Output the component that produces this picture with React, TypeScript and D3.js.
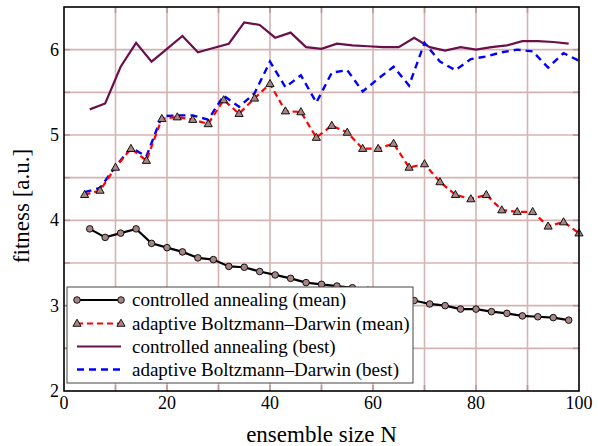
import React from "react";
import * as d3 from "d3";

const caMeanX = [5, 8, 11, 14, 17, 20, 23, 26, 29, 32, 35, 38, 41, 44, 47, 50, 53, 56, 59, 62, 65, 68, 71, 74, 77, 80, 83, 86, 89, 92, 95, 98];
const caMeanY = [3.9, 3.8, 3.85, 3.9, 3.73, 3.68, 3.63, 3.56, 3.54, 3.46, 3.45, 3.4, 3.36, 3.32, 3.27, 3.25, 3.23, 3.21, 3.18, 3.14, 3.1, 3.06, 3.02, 3.0, 2.96, 2.96, 2.93, 2.91, 2.88, 2.87, 2.86, 2.83];

const abdMeanX = [4, 7, 10, 13, 16, 19, 22, 25, 28, 31, 34, 37, 40, 43, 46, 49, 52, 55, 58, 61, 64, 67, 70, 73, 76, 79, 82, 85, 88, 91, 94, 97, 100];
const abdMeanY = [4.3, 4.35, 4.62, 4.84, 4.7, 5.19, 5.21, 5.18, 5.13, 5.41, 5.25, 5.43, 5.6, 5.28, 5.27, 4.97, 5.11, 5.03, 4.84, 4.84, 4.9, 4.62, 4.66, 4.45, 4.3, 4.25, 4.3, 4.12, 4.1, 4.1, 3.93, 3.98, 3.85];

const caBestX = [5, 8, 11, 14, 17, 20, 23, 26, 29, 32, 35, 38, 41, 44, 47, 50, 53, 56, 59, 62, 65, 68, 71, 74, 77, 80, 83, 86, 89, 92, 95, 98];
const caBestY = [5.3, 5.37, 5.8, 6.08, 5.86, 6.01, 6.16, 5.97, 6.02, 6.07, 6.32, 6.29, 6.14, 6.2, 6.03, 6.01, 6.07, 6.05, 6.04, 6.03, 6.03, 6.14, 6.03, 5.99, 6.03, 6.0, 6.03, 6.05, 6.1, 6.1, 6.09, 6.07];

const abdBestX = [4, 7, 10, 13, 16, 19, 22, 25, 28, 31, 34, 37, 40, 43, 46, 49, 52, 55, 58, 61, 64, 67, 70, 73, 76, 79, 82, 85, 88, 91, 94, 97, 100];
const abdBestY = [4.33, 4.38, 4.63, 4.85, 4.75, 5.22, 5.23, 5.23, 5.18, 5.46, 5.33, 5.49, 5.86, 5.56, 5.7, 5.38, 5.73, 5.76, 5.51, 5.66, 5.8, 5.58, 6.08, 5.86, 5.76, 5.89, 5.92, 5.97, 6.0, 5.98, 5.79, 5.96, 5.87];

const xTicks = [0, 20, 40, 60, 80, 100];
const yTicks = [2, 3, 4, 5, 6];
const xGrid = [10, 20, 30, 40, 50, 60, 70, 80, 90];
const yGrid = [2.5, 3, 3.5, 4, 4.5, 5, 5.5, 6];

const legendLabels = [
  "controlled annealing (mean)",
  "adaptive Boltzmann\u2013Darwin (mean)",
  "controlled annealing (best)",
  "adaptive Boltzmann\u2013Darwin (best)",
];

const W = 598;
const H = 446;
const L = 64, R = 579, T = 7, B = 391;
const FONT = "Liberation Serif, Times New Roman, Times, serif";
const MARK = "#a88585";
const GRID = "#d6b3b3";
const TICKC = "#bf9595";
const txt = { fontFamily: FONT };

export default function App() {
  const x = d3.scaleLinear().domain([0, 100]).range([L, R]);
  const y = d3.scaleLinear().domain([2, 6.5]).range([B, T]);
  const line = (xs: number[], ys: number[]) =>
    d3.line<number>().x((_, i) => x(xs[i])).y((d) => y(d))(ys) || "";

  const tri = (cx: number, cy: number, s = 4.3) =>
    `M${cx},${cy - s} L${cx + s * 0.95},${cy + s * 0.65} L${cx - s * 0.95},${cy + s * 0.65} Z`;

  const lx = 67, ly = 287, lw = 346, lh = 96;
  const rows = [300, 323.5, 346.5, 369.5];
  const s0 = 77, s1 = 121;

  return (
    <svg width={W} height={H} style={{ position: "absolute", left: 0, top: 0, background: "#fff", fontFamily: FONT }}>
      {xGrid.map((g) => (
        <line key={"gx" + g} x1={x(g)} x2={x(g)} y1={T} y2={B} stroke={GRID} strokeWidth={1.6} />
      ))}
      {yGrid.map((g) => (
        <line key={"gy" + g} x1={L} x2={R} y1={y(g)} y2={y(g)} stroke={GRID} strokeWidth={1.6} />
      ))}
      {xGrid.map((g) => (
        <g key={"tx" + g}>
          <line x1={x(g)} x2={x(g)} y1={B} y2={B - 6} stroke={TICKC} strokeWidth={1.6} />
          <line x1={x(g)} x2={x(g)} y1={T} y2={T + 6} stroke={TICKC} strokeWidth={1.6} />
        </g>
      ))}
      {yGrid.map((g) => (
        <g key={"ty" + g}>
          <line x1={L} x2={L + 6} y1={y(g)} y2={y(g)} stroke={TICKC} strokeWidth={1.6} />
          <line x1={R} x2={R - 6} y1={y(g)} y2={y(g)} stroke={TICKC} strokeWidth={1.6} />
        </g>
      ))}

      <path d={line(caBestX, caBestY)} fill="none" stroke="#6a0f4a" strokeWidth={2.2} />
      <path d={line(abdBestX, abdBestY)} fill="none" stroke="#0000ff" strokeWidth={2.4} strokeDasharray="7,5" />
      <path d={line(caMeanX, caMeanY)} fill="none" stroke="#000" strokeWidth={2.2} />
      {caMeanX.map((v, i) => (
        <circle key={"c" + i} cx={x(v)} cy={y(caMeanY[i])} r={3.3} fill={MARK} stroke="#000" strokeWidth={0.9} />
      ))}
      <path d={line(abdMeanX, abdMeanY)} fill="none" stroke="#ff0000" strokeWidth={2.2} strokeDasharray="6,4" />
      {abdMeanX.map((v, i) => (
        <path key={"t" + i} d={tri(x(v), y(abdMeanY[i]))} fill={MARK} stroke="#000" strokeWidth={0.9} />
      ))}

      <rect x={L} y={T} width={R - L} height={B - T} fill="none" stroke="#000" strokeWidth={1.6} />

      <rect x={lx} y={ly} width={lw} height={lh} fill="#fff" stroke="#444" strokeWidth={1} />
      <line x1={s0} x2={s1} y1={rows[0]} y2={rows[0]} stroke="#000" strokeWidth={2.2} />
      <circle cx={s0} cy={rows[0]} r={3.3} fill={MARK} stroke="#000" strokeWidth={0.9} />
      <circle cx={s1} cy={rows[0]} r={3.3} fill={MARK} stroke="#000" strokeWidth={0.9} />
      <line x1={s0} x2={s1} y1={rows[1]} y2={rows[1]} stroke="#ff0000" strokeWidth={2.2} strokeDasharray="6,4" />
      <path d={tri(s0, rows[1])} fill={MARK} stroke="#000" strokeWidth={0.9} />
      <path d={tri(s1, rows[1])} fill={MARK} stroke="#000" strokeWidth={0.9} />
      <line x1={s0} x2={s1} y1={rows[2]} y2={rows[2]} stroke="#6a0f4a" strokeWidth={2.2} />
      <line x1={s0} x2={s1} y1={rows[3]} y2={rows[3]} stroke="#0000ff" strokeWidth={2.4} strokeDasharray="7,5" />
      {legendLabels.map((t, i) => (
        <text key={t} x={132} y={rows[i]} dy="0.33em" style={txt} fontSize={19} fill="#000">
          {t}
        </text>
      ))}

      {xTicks.map((t) => (
        <text key={"xl" + t} x={x(t)} y={409} textAnchor="middle" style={txt} fontSize={18} fill="#000">
          {t}
        </text>
      ))}
      {yTicks.map((t) => (
        <text key={"yl" + t} x={L - 5} y={y(t)} dy="0.33em" textAnchor="end" style={txt} fontSize={18} fill="#000">
          {t}
        </text>
      ))}
      <text x={(L + R) / 2} y={442} textAnchor="middle" style={txt} fontSize={23} fill="#000">
        ensemble size N
      </text>
      <text
        transform={`translate(29, 206) rotate(-90)`}
        textAnchor="middle"
        style={txt}
        fontSize={23}
        fill="#000"
      >
        fitness [a.u.]
      </text>
    </svg>
  );
}
